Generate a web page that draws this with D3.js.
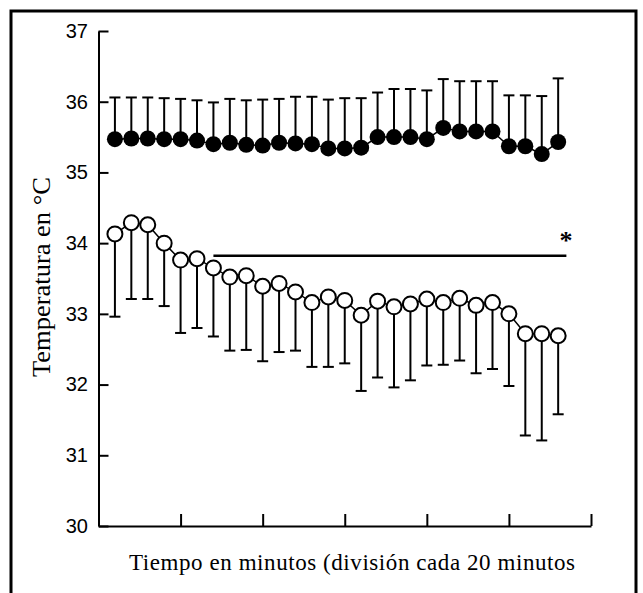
<!DOCTYPE html>
<html>
<head>
<meta charset="utf-8">
<script src="https://cdn.jsdelivr.net/npm/d3@7"></script>
<style>
  html, body { margin: 0; padding: 0; background: #fff; }
  svg { display: block; }
</style>
</head>
<body>
<svg id="chart" width="643" height="593"></svg>
<script>
// ---- data ----
const times = [4, 8, 12, 16, 20, 24, 28, 32, 36, 40, 44, 48, 52, 56, 60, 64, 68, 72, 76, 80, 84, 88, 92, 96, 100, 104, 108, 112];
const filledMean = [35.47, 35.48, 35.48, 35.47, 35.47, 35.45, 35.40, 35.42, 35.39, 35.38, 35.42, 35.41, 35.40, 35.34, 35.34, 35.35, 35.50, 35.50, 35.50, 35.47, 35.63, 35.58, 35.58, 35.58, 35.37, 35.37, 35.26, 35.43];
const filledSD   = [0.59, 0.58, 0.58, 0.58, 0.57, 0.57, 0.59, 0.62, 0.63, 0.65, 0.62, 0.66, 0.67, 0.69, 0.71, 0.70, 0.63, 0.68, 0.68, 0.69, 0.69, 0.71, 0.71, 0.71, 0.72, 0.72, 0.82, 0.90];
const openMean   = [34.13, 34.29, 34.26, 34.00, 33.76, 33.78, 33.65, 33.52, 33.54, 33.39, 33.43, 33.31, 33.16, 33.24, 33.19, 32.98, 33.18, 33.10, 33.14, 33.21, 33.16, 33.22, 33.12, 33.16, 33.00, 32.72, 32.72, 32.69];
const openSD     = [1.17, 1.08, 1.05, 0.89, 1.03, 0.98, 0.97, 1.04, 1.05, 1.06, 0.97, 0.83, 0.91, 0.99, 0.89, 1.07, 1.08, 1.14, 1.08, 0.94, 0.88, 0.88, 0.96, 0.94, 1.02, 1.44, 1.51, 1.11];
const yTicks = [30, 31, 32, 33, 34, 35, 36, 37];
const xTicks = [0, 20, 40, 60, 80, 100, 120];
const sigSpan = [28, 114];   // minutes covered by significance bar
const sigLevel = 33.82;
const yLabel = "Temperatura en °C";
const xLabel = "Tiempo en minutos (división cada 20 minutos";

// ---- layout ----
const svg = d3.select("#chart");
const x = d3.scaleLinear().domain([0, 120]).range([98.5, 591]);
const y = d3.scaleLinear().domain([30, 37]).range([526, 31]);

// frame
svg.append("rect").attr("x", 11).attr("y", 11).attr("width", 625).attr("height", 620)
  .attr("fill", "none").attr("stroke", "#000").attr("stroke-width", 3);

// axes
const yAxis = d3.axisLeft(y).tickValues(yTicks).tickFormat(d3.format("d"))
  .tickSizeInner(-10).tickSizeOuter(0).tickPadding(10.5);
const gy = svg.append("g").attr("transform", `translate(${x(0)},0)`).call(yAxis);
gy.select(".domain").attr("stroke-width", 2);
gy.selectAll(".tick line").attr("stroke-width", 2);
gy.selectAll(".tick text").attr("font-family", "'Liberation Sans', Arial, sans-serif")
  .attr("font-size", 20).attr("fill", "#000");

const xAxis = d3.axisBottom(x).tickValues(xTicks).tickFormat("")
  .tickSizeInner(-12).tickSizeOuter(0);
const gx = svg.append("g").attr("transform", `translate(0,${y(30)})`).call(xAxis);
gx.select(".domain").attr("stroke-width", 2);
gx.selectAll(".tick line").attr("stroke-width", 2);

// axis titles
svg.append("text").attr("transform", `translate(50,${277}) rotate(-90)`)
  .attr("text-anchor", "middle").attr("font-family", "'Liberation Serif', 'Times New Roman', serif")
  .attr("font-size", 25).attr("textLength", 200).attr("lengthAdjust", "spacingAndGlyphs")
  .attr("fill", "#000").text(yLabel);
svg.append("text").attr("x", 129).attr("y", 570)
  .attr("font-family", "'Liberation Serif', 'Times New Roman', serif")
  .attr("font-size", 23).attr("textLength", 446).attr("lengthAdjust", "spacing")
  .attr("fill", "#000").text(xLabel);

// series helper
function drawSeries(means, sds, dir, filled) {
  const data = times.map((t, i) => ({ t, m: means[i], e: means[i] + dir * sds[i] }));
  const g = svg.append("g");
  g.append("path").datum(data)
    .attr("d", d3.line().x(d => x(d.t)).y(d => y(d.m)))
    .attr("fill", "none").attr("stroke", "#000").attr("stroke-width", 1.5);
  g.selectAll("line.bar").data(data).join("line").attr("class", "bar")
    .attr("x1", d => x(d.t)).attr("x2", d => x(d.t))
    .attr("y1", d => y(d.m)).attr("y2", d => y(d.e))
    .attr("stroke", "#000").attr("stroke-width", 2);
  g.selectAll("line.cap").data(data).join("line").attr("class", "cap")
    .attr("x1", d => x(d.t) - 5.5).attr("x2", d => x(d.t) + 5.5)
    .attr("y1", d => y(d.e)).attr("y2", d => y(d.e))
    .attr("stroke", "#000").attr("stroke-width", 2);
  g.selectAll("circle").data(data).join("circle")
    .attr("cx", d => x(d.t)).attr("cy", d => y(d.m))
    .attr("r", filled ? 8 : 7.5)
    .attr("fill", filled ? "#000" : "#fff")
    .attr("stroke", "#000").attr("stroke-width", filled ? 0 : 2);
}
drawSeries(openMean, openSD, -1, false);
drawSeries(filledMean, filledSD, 1, true);

// significance bar
svg.append("line").attr("x1", x(sigSpan[0])).attr("x2", x(sigSpan[1]))
  .attr("y1", y(sigLevel)).attr("y2", y(sigLevel))
  .attr("stroke", "#000").attr("stroke-width", 2.5);
svg.append("text").attr("x", 566).attr("y", 249).attr("text-anchor", "middle")
  .attr("font-family", "'Liberation Serif', 'Times New Roman', serif").attr("font-weight", "bold")
  .attr("font-size", 26).attr("fill", "#000").text("*");
</script>
</body>
</html>
